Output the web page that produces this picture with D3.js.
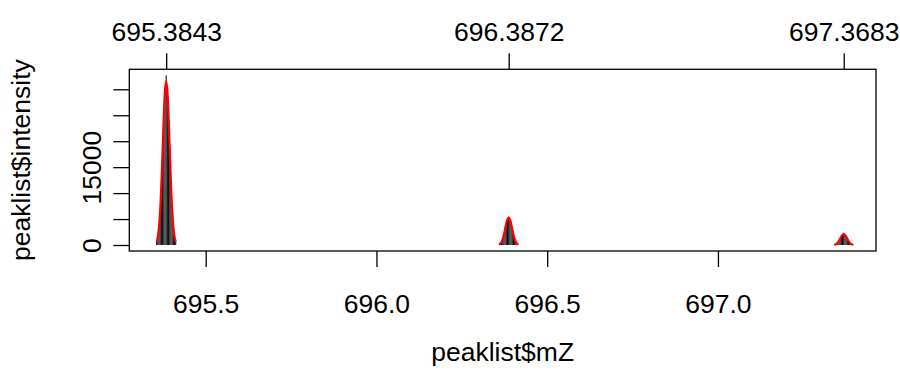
<!DOCTYPE html>
<html>
<head>
<meta charset="utf-8">
<script src="https://cdn.jsdelivr.net/npm/d3@7"></script>
<style>
  html, body { margin: 0; padding: 0; background: #fff; }
  svg { display: block; }
  text { font-family: "Liberation Sans", Arial, Helvetica, sans-serif; fill: #000; }
</style>
</head>
<body>
<svg id="chart" width="900" height="378"></svg>
<script>
// ---- data ----
const peakMZ = [695.3843, 696.3872, 697.3683];              // top axis tick positions
const peakLabels = ["695.3843", "696.3872", "697.3683"];

// profile points (type = "h"), one row per isotope peak
const mZ1 = [695.3563, 695.3598, 695.3633, 695.3668, 695.3703, 695.3738, 695.3773, 695.3808, 695.3843,
             695.3878, 695.3913, 695.3948, 695.3983, 695.4018, 695.4053, 695.4088, 695.4123];
const mZ2 = [696.3592, 696.3627, 696.3662, 696.3697, 696.3732, 696.3767, 696.3802, 696.3837, 696.3872,
             696.3907, 696.3942, 696.3977, 696.4012, 696.4047, 696.4082, 696.4117, 696.4152];
const mZ3 = [697.3403, 697.3438, 697.3473, 697.3508, 697.3543, 697.3578, 697.3613, 697.3648, 697.3683,
             697.3718, 697.3753, 697.3788, 697.3823, 697.3858, 697.3893, 697.3928, 697.3963];

const int1 = [640, 1600, 3500, 6800, 11900, 18100, 24800, 29900, 32700,
              29600, 24600, 18300, 11800, 6900, 3450, 1550, 610];
const int2 = [100, 260, 590, 1150, 2010, 3030, 4180, 5000, 5450,
              4990, 4120, 3070, 1980, 1140, 580, 265, 105];
const int3 = [40, 100, 230, 450, 790, 1200, 1650, 1980, 2060,
              1970, 1640, 1210, 785, 455, 232, 104, 42];

// fitted model (red), evaluated at the same m/z points
const fit1 = [630, 1570, 3490, 6840, 11860, 18210, 24730, 29720, 31600,
              29720, 24730, 18210, 11860, 6840, 3490, 1570, 630];
const fit2 = [105, 263, 585, 1146, 1989, 3055, 4148, 4985, 5300,
              4985, 4148, 3055, 1989, 1146, 585, 263, 105];
const fit3 = [42, 104, 232, 454, 788, 1210, 1644, 1975, 2100,
              1975, 1644, 1210, 788, 454, 232, 104, 42];

const xTicks = [695.5, 696.0, 696.5, 697.0];
const xTickLabels = ["695.5", "696.0", "696.5", "697.0"];
const yTicks = [0, 5000, 10000, 15000, 20000, 25000, 30000];
const yTickLabels = ["0", "", "", "15000", "", "", ""];
const xTitle = "peaklist$mZ";
const yTitle = "peaklist$intensity";

// ---- layout ----
const PL = 129.3, PR = 876, PT = 69.3, PB = 251;
const FS = 26.5;
const fontFam = '"Liberation Sans", Arial, sans-serif';
const svg = d3.select("#chart");

const x = d3.scaleLinear().domain([695.2763, 697.4628]).range([PL, PR]);
const y = d3.scaleLinear().domain([-1156, 33853]).range([PB, PT]);

const mZ = [mZ1, mZ2, mZ3];
const ints = [int1, int2, int3];
const fits = [fit1, fit2, fit3];

// profile sticks
const sticks = [];
mZ.forEach((arr, k) => arr.forEach((m, i) => sticks.push([m, ints[k][i]])));
svg.append("g").selectAll("line").data(sticks).join("line")
  .attr("x1", d => x(d[0])).attr("x2", d => x(d[0]))
  .attr("y1", y(0)).attr("y2", d => y(d[1]))
  .attr("stroke", "#000").attr("stroke-width", 1);

// fitted curves
const lineGen = d3.line().x(d => x(d[0])).y(d => y(d[1])).curve(d3.curveCatmullRom);
mZ.forEach((arr, k) => {
  svg.append("path")
    .attr("d", lineGen(arr.map((m, i) => [m, fits[k][i]])))
    .attr("fill", "none").attr("stroke", "#ff0000").attr("stroke-width", 2.2);
});

// box
svg.append("rect").attr("x", PL).attr("y", PT).attr("width", PR - PL).attr("height", PB - PT)
  .attr("fill", "none").attr("stroke", "#000").attr("stroke-width", 1.3);

// bottom axis
const axB = d3.axisBottom(x).tickValues(xTicks).tickFormat((d, i) => xTickLabels[i])
  .tickSizeInner(16).tickSizeOuter(0).tickPadding(0);
const gB = svg.append("g").attr("transform", `translate(0,${PB})`).call(axB);
gB.select(".domain").remove();
gB.selectAll("line").attr("stroke-width", 1.3);
gB.selectAll("text").attr("y", 62).attr("dy", null).style("font-size", FS + "px")
  .style("font-family", fontFam);

// top axis
const axT = d3.axisTop(x).tickValues(peakMZ).tickFormat((d, i) => peakLabels[i])
  .tickSizeInner(16).tickSizeOuter(0).tickPadding(0);
const gT = svg.append("g").attr("transform", `translate(0,${PT})`).call(axT);
gT.select(".domain").remove();
gT.selectAll("line").attr("stroke-width", 1.3);
gT.selectAll("text").attr("y", -28.3).attr("dy", null).style("font-size", FS + "px")
  .style("font-family", fontFam);

// left axis
const axL = d3.axisLeft(y).tickValues(yTicks).tickFormat((d, i) => yTickLabels[i])
  .tickSizeInner(16).tickSizeOuter(0).tickPadding(0);
const gL = svg.append("g").attr("transform", `translate(${PL},0)`).call(axL);
gL.select(".domain").remove();
gL.selectAll("line").attr("stroke-width", 1.3);
gL.selectAll("text")
  .attr("x", null).attr("dy", null)
  .attr("text-anchor", "middle")
  .attr("transform", "translate(-28.3,0) rotate(-90)")
  .style("font-size", FS + "px")
  .style("font-family", fontFam);

// axis titles
svg.append("text").attr("x", (PL + PR) / 2).attr("y", 361).attr("text-anchor", "middle")
  .style("font-size", FS + "px").style("font-family", fontFam).text(xTitle);
svg.append("text").attr("transform", `translate(30,${(PT + PB) / 2}) rotate(-90)`)
  .attr("text-anchor", "middle").style("font-size", FS + "px").style("font-family", fontFam)
  .text(yTitle);
</script>
</body>
</html>
